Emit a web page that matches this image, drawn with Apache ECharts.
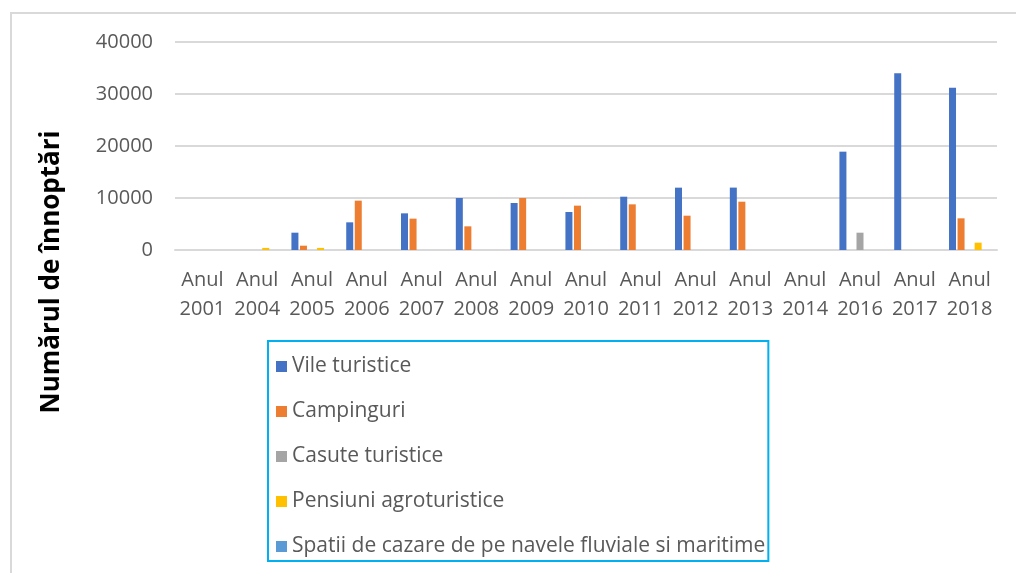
<!DOCTYPE html>
<html>
<head>
<meta charset="utf-8">
<script src="https://cdn.jsdelivr.net/npm/echarts@6/dist/echarts.min.js"></script>
<style>
  html, body { margin: 0; padding: 0; background: #fff; }
  #chart { width: 1016px; height: 573px; }
</style>
</head>
<body>
<div id="chart"></div>
<script>
const categories = ['Anul 2001', 'Anul 2004', 'Anul 2005', 'Anul 2006', 'Anul 2007', 'Anul 2008', 'Anul 2009',
  'Anul 2010', 'Anul 2011', 'Anul 2012', 'Anul 2013', 'Anul 2014', 'Anul 2016', 'Anul 2017', 'Anul 2018']
const vile = [0, 0, 3330, 5320, 7050, 10000, 9040, 7310, 10250, 11990, 12000, 0, 18910, 33970, 31220]
const campinguri = [0, 0, 830, 9490, 6030, 4550, 10000, 8530, 8780, 6600, 9290, 0, 0, 0, 6090]
const casute = [0, 0, 0, 0, 0, 0, 0, 0, 0, 0, 0, 0, 3330, 0, 0]
const pensiuni = [0, 400, 400, 0, 0, 0, 0, 0, 0, 0, 0, 0, 0, 0, 1410]
const navele = [0, 0, 0, 0, 0, 0, 0, 0, 0, 0, 0, 0, 0, 0, 0]
const yTicks = [0, 10000, 20000, 30000, 40000]

const chart = echarts.init(document.getElementById('chart'))
const font = '"Open Sans", "DejaVu Sans", sans-serif'
const colors = ['#4472c4', '#ed7d31', '#a5a5a5', '#ffc000', '#5b9bd5']

const bar = (name, data) => ({
  name: name,
  type: 'bar',
  data: data,
  barWidth: 7,
  barGap: '22%'
})

const option = {
  animation: false,
  color: colors,
  textStyle: { fontFamily: font },
  grid: {
    left: 175,
    right: 19,
    top: 42,
    bottom: 323
  },
  legend: {
    orient: 'vertical',
    left: 268,
    top: 341,
    icon: 'rect',
    itemWidth: 11,
    itemHeight: 11,
    itemGap: 24,
    padding: [15, 3, 4, 8],
    borderColor: '#00b0f0',
    borderWidth: 2,
    textStyle: {
      color: '#595959',
      fontSize: 21,
      fontFamily: font
    },
    data: ['Vile turistice', 'Campinguri', 'Casute turistice', 'Pensiuni agroturistice',
      'Spatii de cazare de pe navele fluviale si maritime']
  },
  xAxis: {
    type: 'category',
    data: categories,
    axisLine: { lineStyle: { color: '#d9d9d9', width: 2 } },
    axisTick: { show: false },
    axisLabel: {
      color: '#595959',
      fontSize: 20,
      lineHeight: 29,
      margin: 16,
      interval: 0,
      formatter: v => v.replace(' ', '\n')
    }
  },
  yAxis: {
    type: 'value',
    min: yTicks[0],
    max: yTicks[yTicks.length - 1],
    interval: 10000,
    axisLine: { show: false },
    axisTick: { show: false },
    axisLabel: {
      color: '#595959',
      fontSize: 20,
      margin: 22,
      formatter: v => String(v)
    },
    splitLine: { lineStyle: { color: '#d9d9d9', width: 2 } }
  },
  graphic: [
    {
      type: 'polyline',
      shape: { points: [[11, 573], [11, 13], [1016, 13]] },
      style: { stroke: '#d9d9d9', lineWidth: 2, fill: null }
    },
    {
      type: 'text',
      x: 52,
      y: 272,
      rotation: Math.PI / 2,
      style: {
        text: 'Numărul de înnoptări',
        fill: '#000',
        font: 'bold 26px ' + font,
        textAlign: 'center',
        textVerticalAlign: 'middle'
      }
    }
  ],
  series: [
    bar('Vile turistice', vile),
    bar('Campinguri', campinguri),
    bar('Casute turistice', casute),
    bar('Pensiuni agroturistice', pensiuni),
    bar('Spatii de cazare de pe navele fluviale si maritime', navele)
  ]
}
chart.setOption(option)
</script>
</body>
</html>
